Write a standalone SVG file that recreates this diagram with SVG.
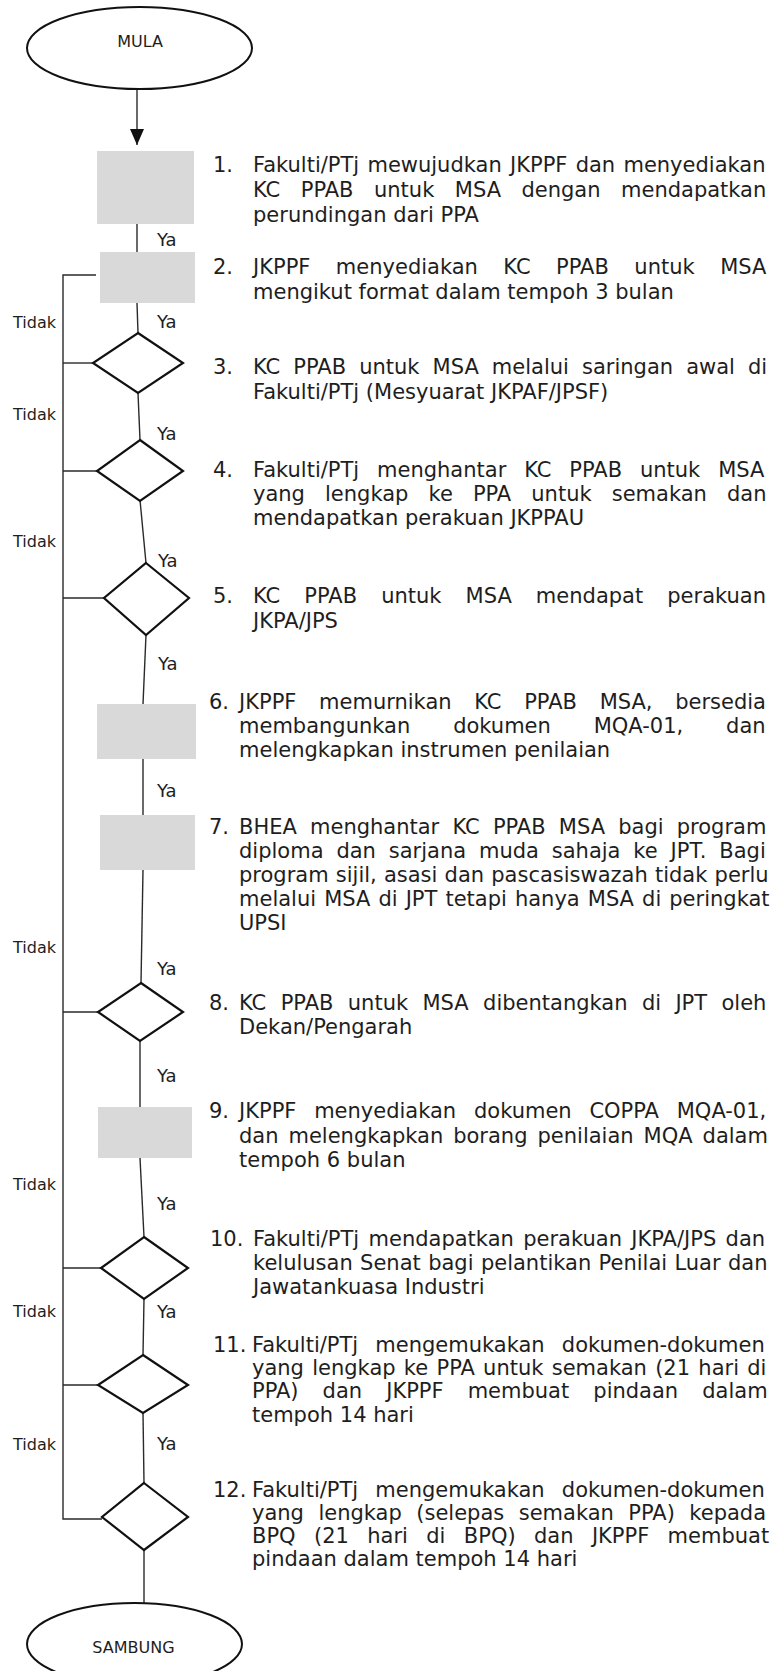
<svg xmlns="http://www.w3.org/2000/svg" width="774" height="1671" viewBox="0 0 774 1671">
<style>
.bg{fill:#ffffff}
.t{font-family:"DejaVu Sans",Verdana,sans-serif;font-size:21px;fill:#1e1e1e}
.lbl{font-family:"DejaVu Sans",Verdana,sans-serif;font-size:16px;fill:#1e1e1e}
.ya{font-family:"DejaVu Sans",Verdana,sans-serif;font-size:18px;fill:#1e1e1e}
.term{fill:#ffffff;stroke:#111;stroke-width:2}
.proc{fill:#d9d9d9;stroke:none}
.dec{fill:#ffffff;stroke:#111;stroke-width:2.2;stroke-linejoin:miter}
.con{fill:none;stroke:#2a2a2a;stroke-width:1.4}
</style>
<defs>
<marker id="arr" viewBox="0 0 16 14" refX="16" refY="7" markerWidth="16" markerHeight="14" markerUnits="userSpaceOnUse" orient="auto">
<path d="M0,0 L16,7 L0,14 Z" fill="#111"/>
</marker>
</defs>
<rect class="bg" x="0" y="0" width="774" height="1671"/>

<g id="connectors">
<line class="con" x1="137" y1="89" x2="137" y2="145" marker-end="url(#arr)"/>
<line class="con" x1="137" y1="224" x2="137" y2="252"/>
<line class="con" x1="137" y1="303" x2="138" y2="333"/>
<line class="con" x1="138" y1="393" x2="140" y2="440"/>
<line class="con" x1="140" y1="500" x2="146" y2="563"/>
<line class="con" x1="146" y1="635" x2="143" y2="704"/>
<line class="con" x1="143" y1="759" x2="143" y2="815"/>
<line class="con" x1="143" y1="870" x2="141" y2="983"/>
<line class="con" x1="140" y1="1041" x2="140" y2="1107"/>
<line class="con" x1="140" y1="1158" x2="144" y2="1237"/>
<line class="con" x1="144" y1="1299" x2="143" y2="1355"/>
<line class="con" x1="143" y1="1413" x2="144" y2="1483"/>
<line class="con" x1="144" y1="1550" x2="144" y2="1603"/>
<polyline class="con" points="96,275 63,275 63,1519 102,1519"/>
<line class="con" x1="63" y1="363" x2="93" y2="363"/>
<line class="con" x1="63" y1="471" x2="97" y2="471"/>
<line class="con" x1="63" y1="598" x2="104" y2="598"/>
<line class="con" x1="63" y1="1012" x2="98" y2="1012"/>
<line class="con" x1="63" y1="1268" x2="101" y2="1268"/>
<line class="con" x1="63" y1="1385" x2="98" y2="1385"/>
<text class="ya" x="157" y="246">Ya</text>
<text class="ya" x="157" y="328">Ya</text>
<text class="ya" x="157" y="440">Ya</text>
<text class="ya" x="158" y="567">Ya</text>
<text class="ya" x="158" y="670">Ya</text>
<text class="ya" x="157" y="797">Ya</text>
<text class="ya" x="157" y="975">Ya</text>
<text class="ya" x="157" y="1082">Ya</text>
<text class="ya" x="157" y="1210">Ya</text>
<text class="ya" x="157" y="1318">Ya</text>
<text class="ya" x="157" y="1450">Ya</text>
<text class="lbl" x="13" y="328">Tidak</text>
<text class="lbl" x="13" y="420">Tidak</text>
<text class="lbl" x="13" y="547">Tidak</text>
<text class="lbl" x="13" y="953">Tidak</text>
<text class="lbl" x="13" y="1190">Tidak</text>
<text class="lbl" x="13" y="1317">Tidak</text>
<text class="lbl" x="13" y="1450">Tidak</text>
</g>

<g id="start">
<ellipse class="term" cx="139.5" cy="48" rx="112.5" ry="41"/>
<text class="lbl" x="140" y="47" text-anchor="middle">MULA</text>
</g>

<g id="step1">
<rect class="proc" x="97" y="151" width="97" height="73"/>
<text class="t" x="213" y="172">1.</text>
<text class="t" x="253" y="172" word-spacing="1.6">Fakulti/PTj mewujudkan JKPPF dan menyediakan</text>
<text class="t" x="253" y="197" word-spacing="13.8">KC PPAB untuk MSA dengan mendapatkan</text>
<text class="t" x="253" y="222">perundingan dari PPA</text>
</g>

<g id="step2">
<rect class="proc" x="100" y="252" width="95" height="51"/>
<text class="t" x="213" y="274">2.</text>
<text class="t" x="253" y="274" word-spacing="18.8">JKPPF menyediakan KC PPAB untuk MSA</text>
<text class="t" x="253" y="299">mengikut format dalam tempoh 3 bulan</text>
</g>

<g id="step3">
<polygon class="dec" points="138,333 183,363 138,393 93,363"/>
<text class="t" x="213" y="374">3.</text>
<text class="t" x="253" y="374" word-spacing="6.4">KC PPAB untuk MSA melalui saringan awal di</text>
<text class="t" x="253" y="399">Fakulti/PTj (Mesyuarat JKPAF/JPSF)</text>
</g>

<g id="step4">
<polygon class="dec" points="140,440 183,471 140,501 97,471"/>
<text class="t" x="213" y="477">4.</text>
<text class="t" x="253" y="477" word-spacing="11.2">Fakulti/PTj menghantar KC PPAB untuk MSA</text>
<text class="t" x="253" y="501" word-spacing="13.4">yang lengkap ke PPA untuk semakan dan</text>
<text class="t" x="253" y="525">mendapatkan perakuan JKPPAU</text>
</g>

<g id="step5">
<polygon class="dec" points="146,563 189,598 146,635 104,598"/>
<text class="t" x="213" y="603">5.</text>
<text class="t" x="253" y="603" word-spacing="17.4">KC PPAB untuk MSA mendapat perakuan</text>
<text class="t" x="253" y="628">JKPA/JPS</text>
</g>

<g id="step6">
<rect class="proc" x="97" y="704" width="99" height="55"/>
<text class="t" x="209" y="709">6.</text>
<text class="t" x="239" y="709" word-spacing="16">JKPPF memurnikan KC PPAB MSA, bersedia</text>
<text class="t" x="239" y="733" word-spacing="36.2">membangunkan dokumen MQA-01, dan</text>
<text class="t" x="239" y="757">melengkapkan instrumen penilaian</text>
</g>

<g id="step7">
<rect class="proc" x="100" y="815" width="95" height="55"/>
<text class="t" x="209" y="834">7.</text>
<text class="t" x="239" y="834" word-spacing="6.5">BHEA menghantar KC PPAB MSA bagi program</text>
<text class="t" x="239" y="858" word-spacing="6.2">diploma dan sarjana muda sahaja ke JPT. Bagi</text>
<text class="t" x="239" y="882" word-spacing="0.5">program sijil, asasi dan pascasiswazah tidak perlu</text>
<text class="t" x="239" y="906" word-spacing="1.4">melalui MSA di JPT tetapi hanya MSA di peringkat</text>
<text class="t" x="239" y="930">UPSI</text>
</g>

<g id="step8">
<polygon class="dec" points="141,983 183,1012 140,1041 98,1012"/>
<text class="t" x="209" y="1010">8.</text>
<text class="t" x="239" y="1010" word-spacing="7.7">KC PPAB untuk MSA dibentangkan di JPT oleh</text>
<text class="t" x="239" y="1034">Dekan/Pengarah</text>
</g>

<g id="step9">
<rect class="proc" x="98" y="1107" width="94" height="51"/>
<text class="t" x="209" y="1118">9.</text>
<text class="t" x="239" y="1118" word-spacing="11.1">JKPPF menyediakan dokumen COPPA MQA-01,</text>
<text class="t" x="239" y="1143" word-spacing="3.3">dan melengkapkan borang penilaian MQA dalam</text>
<text class="t" x="239" y="1167">tempoh 6 bulan</text>
</g>

<g id="step10">
<polygon class="dec" points="144,1237 188,1268 144,1299 101,1268"/>
<text class="t" x="210" y="1246">10.</text>
<text class="t" x="253" y="1246" word-spacing="2.7">Fakulti/PTj mendapatkan perakuan JKPA/JPS dan</text>
<text class="t" x="253" y="1270" word-spacing="0.7">kelulusan Senat bagi pelantikan Penilai Luar dan</text>
<text class="t" x="253" y="1294">Jawatankuasa Industri</text>
</g>

<g id="step11">
<polygon class="dec" points="143,1355 188,1385 143,1413 98,1385"/>
<text class="t" x="213" y="1352">11.</text>
<text class="t" x="252" y="1352" word-spacing="10.5">Fakulti/PTj mengemukakan dokumen-dokumen</text>
<text class="t" x="252" y="1375" word-spacing="1.6">yang lengkap ke PPA untuk semakan (21 hari di</text>
<text class="t" x="252" y="1398" word-spacing="17.4">PPA) dan JKPPF membuat pindaan dalam</text>
<text class="t" x="252" y="1422">tempoh 14 hari</text>
</g>

<g id="step12">
<polygon class="dec" points="144,1483 188,1517 144,1550 102,1517"/>
<text class="t" x="213" y="1497">12.</text>
<text class="t" x="252" y="1497" word-spacing="10.5">Fakulti/PTj mengemukakan dokumen-dokumen</text>
<text class="t" x="252" y="1520" word-spacing="7.8">yang lengkap (selepas semakan PPA) kepada</text>
<text class="t" x="252" y="1543" word-spacing="11.7">BPQ (21 hari di BPQ) dan JKPPF membuat</text>
<text class="t" x="252" y="1566">pindaan dalam tempoh 14 hari</text>
</g>

<g id="end">
<ellipse class="term" cx="134.5" cy="1644" rx="107.5" ry="41"/>
<text class="lbl" x="133.5" y="1653" text-anchor="middle">SAMBUNG</text>
</g>
</svg>
